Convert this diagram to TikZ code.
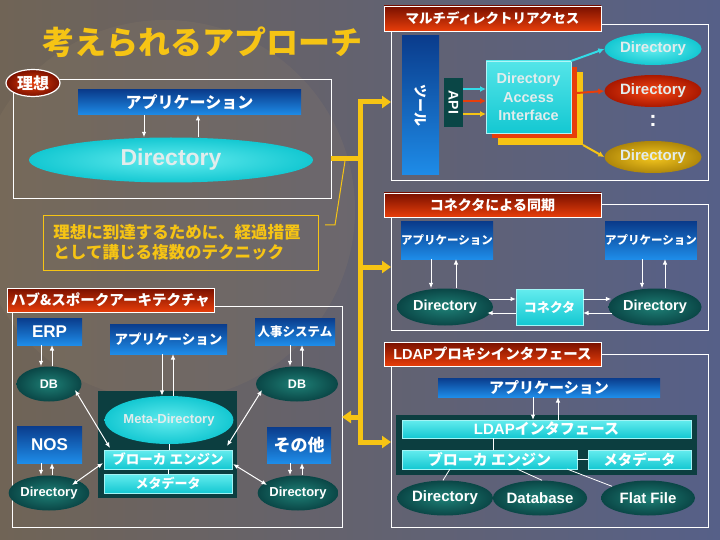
\documentclass[tikz,border=0pt]{standalone}
\usepackage{fontspec}
\setmainfont{Liberation Sans}
\newfontfamily\jp{Noto Sans CJK JP}
\usetikzlibrary{shapes.geometric,arrows.meta,calc}
\newcommand\myfs[1]{\fontsize{#1}{#1}\selectfont}
\definecolor{bgL}{RGB}{112,100,86}
\definecolor{bgR}{RGB}{86,96,136}
\definecolor{globe}{RGB}{150,132,108}
\definecolor{yel}{RGB}{246,196,20}
\definecolor{redD}{RGB}{120,16,0}
\definecolor{redL}{RGB}{232,62,10}
\definecolor{blueD}{RGB}{10,60,140}
\definecolor{blueL}{RGB}{30,140,232}
\definecolor{cyanT}{RGB}{100,236,238}
\definecolor{cyanB}{RGB}{20,200,210}
\definecolor{tealD}{RGB}{10,70,70}
\definecolor{tealL}{RGB}{30,128,118}
\definecolor{contC}{RGB}{12,62,64}
\definecolor{goldL}{RGB}{246,200,30}
\definecolor{goldD}{RGB}{175,135,10}
\definecolor{redE}{RGB}{245,70,20}
\definecolor{redED}{RGB}{170,24,0}
\definecolor{cyanA}{RGB}{50,220,232}
\definecolor{ltxt}{RGB}{226,236,236}
\begin{document}
\begin{tikzpicture}[x=1pt,y=-1pt,
  box/.style={rectangle,inner sep=0pt,outer sep=0pt},
  wframe/.style={box,draw=white,line width=0.8pt},
  redtitle/.style={box,draw=white,line width=0.8pt,top color=redD,bottom color=redL,text=white,font=\jp\bfseries\myfs{14}},
  bluebox/.style={box,top color=blueD,bottom color=blueL,text=white,font=\jp\bfseries},
  cyanbar/.style={box,draw=cyanT!60!white,line width=0.5pt,top color=cyanT,bottom color=cyanB,text=white,font=\jp\bfseries},
  tealell/.style={ellipse,inner sep=0pt,inner color=tealL,outer color=tealD,text=white,font=\bfseries},
  cyanell/.style={ellipse,inner sep=0pt,inner color=cyanT,outer color=cyanB,text=ltxt,font=\bfseries},
  arr/.style={draw=white,line width=1pt,-{Latex[length=5.5pt,width=4.5pt]}},
  darr/.style={draw=white,line width=1pt,{Latex[length=5.5pt,width=4.5pt]}-{Latex[length=5.5pt,width=4.5pt]}},
  carr/.style={draw=#1,line width=2pt,-{Latex[length=6pt,width=6pt]}},
  yline/.style={draw=yel,line width=5pt},
  ytip/.style={-{Triangle[length=9pt,width=12pt]}},
  thinline/.style={draw=white,line width=0.8pt}
]
\useasboundingbox (0,0) rectangle (720,540);
\clip (0,0) rectangle (720,540);
% background
\fill[left color=bgL,right color=bgR] (0,0) rectangle (720,540);
\fill[globe,opacity=0.16] (165,210) circle (190);

% title
\node[font=\jp\bfseries\myfs{32},text=yel] (title) at (202.5,42) {考えられるアプローチ};

% ===== ideal =====
\node[wframe,minimum width=318,minimum height=119] (ideal) at (172,138.5) {};
\node[bluebox,minimum width=223,minimum height=25,font=\jp\bfseries\myfs{16}] (app1) at (189.5,102.5) {アプリケーション};
\node[cyanell,minimum width=284,minimum height=45,font=\bfseries\myfs{23}] (dir1) at (171,160) {Directory};
\node[ellipse,inner sep=0pt,minimum width=54,minimum height=27,draw=white,line width=1.2pt,inner color=redL,outer color=redD,text=white,font=\jp\bfseries\myfs{16}] (badge) at (33,83) {理想};
\draw[arr] ([xshift=-45.5]app1.south) -- ([xshift=-27]dir1.north);
\draw[arr] ([xshift=27]dir1.north) -- ([xshift=8.5]app1.south);

% ===== multi directory =====
\node[wframe,minimum width=317,minimum height=156] (mframe) at (549.5,102) {};
\node[redtitle,minimum width=217,minimum height=25,font=\jp\bfseries\myfs{13.5}] (mtitle) at (492.5,18.5) {マルチディレクトリアクセス};
\node[box,minimum width=37,minimum height=139,top color=blueD,bottom color=blueL] (tool) at (420.5,105.5) {};
\node[rotate=-90,text=white,font=\jp\bfseries\myfs{14}] (tooltxt) at (tool.center) {ツール};
\node[box,minimum width=19,minimum height=49,fill=tealD] (api) at (453.5,102.5) {};
\node[rotate=-90,text=white,font=\bfseries\myfs{14}] (apitxt) at (api.center) {API};
\node[box,minimum width=85,minimum height=73,fill=yel] (daiY) at (540.5,108.5) {};
\node[box,minimum width=85,minimum height=71,fill=redL] (daiR) at (534.5,102.5) {};
\node[box,minimum width=85,minimum height=72,top color=cyanT!80!cyanB,bottom color=cyanB,draw=cyanT!50!white,line width=0.5pt,text=ltxt,align=center,font=\bfseries\fontsize{14.5}{18.5}\selectfont] (dai) at (528.5,97) {Directory\\Access\\Interface};
\node[cyanell,minimum width=97,minimum height=32,font=\bfseries\myfs{15}] (dirA) at (653,49) {Directory};
\node[ellipse,inner sep=0pt,minimum width=97,minimum height=32,inner color=redE,outer color=redED,text=ltxt,font=\bfseries\myfs{15}] (dirB) at (653,91) {Directory};
\node[ellipse,inner sep=0pt,minimum width=97,minimum height=32,inner color=goldL,outer color=goldD,text=ltxt,font=\bfseries\myfs{15}] (dirC) at (653,157) {Directory};
\node[text=white,font=\bfseries\myfs{22}] (dots) at (653,121) {:};
\draw[carr=cyanA] ([yshift=13.5]api.east) -- ([yshift=8]dai.west);
\draw[carr=redL] ([yshift=1.5]api.east) -- ([yshift=-4]dai.west);
\draw[carr=yel] ([yshift=-11.5]api.east) -- ([yshift=-17]dai.west);
\draw[carr=cyanA] (dai.north east) -- (dirA.west);
\draw[carr=redL] ([yshift=9.5]daiR.east) -- (dirB.west);
\draw[carr=yel] (daiY.south east) -- (dirC.west);

% ===== connector sync =====
\node[wframe,minimum width=317,minimum height=126] (cframe) at (549.5,267) {};
\node[redtitle,minimum width=217,minimum height=24] (ctitle) at (492.5,205) {コネクタによる同期};
\node[bluebox,minimum width=92,minimum height=37,font=\jp\bfseries\myfs{11.5}] (capp1) at (447,240.5) {アプリケーション};
\node[bluebox,minimum width=90,minimum height=37,font=\jp\bfseries\myfs{11.5}] (capp2) at (651,240.5) {アプリケーション};
\node[tealell,minimum width=96,minimum height=37,font=\bfseries\myfs{14.5}] (cdir1) at (445,307) {Directory};
\node[tealell,minimum width=93,minimum height=37,font=\bfseries\myfs{14.5}] (cdir2) at (655,307) {Directory};
\node[cyanbar,minimum width=67,minimum height=36,font=\jp\bfseries\myfs{13}] (conn) at (549.5,307) {コネクタ};
\draw[arr] ([xshift=-16]capp1.south) -- ([xshift=-14]cdir1.north);
\draw[arr] ([xshift=11]cdir1.north) -- ([xshift=9]capp1.south);
\draw[arr] ([xshift=-9]capp2.south) -- ([xshift=-13]cdir2.north);
\draw[arr] ([xshift=10]cdir2.north) -- ([xshift=14]capp2.south);
\draw[arr] ([xshift=-4,yshift=8]cdir1.east) -- ([yshift=8]conn.west);
\draw[arr] ([yshift=-6]conn.west) -- ([xshift=-6,yshift=-6]cdir1.east);
\draw[arr] ([yshift=8]conn.east) -- ([xshift=3,yshift=8]cdir2.west);
\draw[arr] ([xshift=4,yshift=-6]cdir2.west) -- ([yshift=-6]conn.east);

% ===== LDAP proxy =====
\node[wframe,minimum width=317,minimum height=173] (lframe) at (549.5,440.5) {};
\node[redtitle,minimum width=217,minimum height=24,font=\jp\bfseries\myfs{14.5}] (ltitle) at (492.5,354) {{\rmfamily\bfseries LDAP}プロキシインタフェース};
\node[bluebox,minimum width=222,minimum height=19,font=\jp\bfseries\myfs{15}] (lapp) at (549,387.5) {アプリケーション};
\node[box,minimum width=301,minimum height=60,fill=contC] (lcont) at (546.5,445) {};
\node[cyanbar,minimum width=289,minimum height=18,font=\jp\bfseries\myfs{15}] (lif) at (546.5,429) {{\rmfamily\bfseries LDAP}インタフェース};
\node[cyanbar,minimum width=175,minimum height=19,font=\jp\bfseries\myfs{15}] (lbro) at (489.5,459.5) {ブローカ エンジン};
\node[cyanbar,minimum width=103,minimum height=19,font=\jp\bfseries\myfs{14.5}] (lmeta) at (639.5,459.5) {メタデータ};
\node[tealell,minimum width=96,minimum height=35,font=\bfseries\myfs{15}] (ldir) at (445,498) {Directory};
\node[tealell,minimum width=90,minimum height=35,font=\bfseries\myfs{15}] (ldb) at (540,498) {Database};
\node[tealell,minimum width=94,minimum height=35,font=\bfseries\myfs{15}] (lff) at (648,498) {Flat File};
\draw[arr] ([xshift=-16]lapp.south) -- ([xshift=-13.5]lif.north);
\draw[arr] ([xshift=11.5]lif.north) -- ([xshift=9]lapp.south);
\draw[thinline] ([xshift=-53.5]lif.south) -- ([xshift=3.5]lbro.north);
\draw[thinline] (lbro.east) -- (lmeta.west);
\draw[thinline] ([xshift=-39.5]lbro.south) -- ([xshift=-2]ldir.north);
\draw[thinline] ([xshift=27.5]lbro.south) -- ([xshift=2]ldb.north);
\draw[thinline] ([xshift=77.5]lbro.south) -- ([xshift=-36,yshift=-6]lff.north);

% ===== hub & spoke =====
\node[wframe,minimum width=330,minimum height=221] (hframe) at (177,416.5) {};
\node[redtitle,minimum width=207,minimum height=24,font=\jp\bfseries\myfs{14.5}] (htitle) at (110.5,300) {ハブ\&スポークアーキテクチャ};
\node[bluebox,minimum width=65,minimum height=27,font=\bfseries\myfs{17}] (erp) at (49.5,331.5) {ERP};
\node[bluebox,minimum width=117,minimum height=30,font=\jp\bfseries\myfs{13.5}] (happ) at (168.5,339) {アプリケーション};
\node[bluebox,minimum width=80,minimum height=27,font=\jp\bfseries\myfs{12.5}] (jinji) at (295,331.5) {人事システム};
\node[tealell,minimum width=65,minimum height=35,font=\bfseries\myfs{12.5}] (db1) at (49,384) {DB};
\node[tealell,minimum width=82,minimum height=35,font=\bfseries\myfs{12.5}] (db2) at (297,384) {DB};
\node[box,minimum width=139,minimum height=107,fill=contC] (mcont) at (167.5,444.5) {};
\node[cyanell,minimum width=119,minimum height=48,font=\bfseries\myfs{13}] (metadir) at (169,420) {Meta-Directory};
\node[cyanbar,minimum width=128,minimum height=19,font=\jp\bfseries\myfs{13.5}] (hbro) at (168,459.5) {ブローカ エンジン};
\node[cyanbar,minimum width=128,minimum height=19,font=\jp\bfseries\myfs{13}] (hmeta) at (168,483.5) {メタデータ};
\node[bluebox,minimum width=65,minimum height=37,font=\bfseries\myfs{17}] (nos) at (49.5,444.5) {NOS};
\node[bluebox,minimum width=64,minimum height=36,font=\jp\bfseries\myfs{17}] (sonota) at (299,445) {その他};
\node[tealell,minimum width=63,minimum height=35,font=\bfseries\myfs{13}] (hdir1) at (49,493) {Directory};
\node[tealell,minimum width=63,minimum height=35,font=\bfseries\myfs{13}] (hdir2) at (298,493) {Directory};
\draw[arr] ([xshift=-8.5]erp.south) -- ([xshift=-8]db1.north);
\draw[arr] ([xshift=3]db1.north) -- ([xshift=2.5]erp.south);
\draw[arr] ([xshift=-5]jinji.south) -- ([xshift=-7]db2.north);
\draw[arr] ([xshift=5]db2.north) -- ([xshift=7]jinji.south);
\draw[arr] ([xshift=-6.5]happ.south) -- ([xshift=-7]metadir.north);
\draw[arr] ([xshift=4]metadir.north) -- ([xshift=4.5]happ.south);
\draw[arr] ([xshift=-8.5]nos.south) -- ([xshift=-8]hdir1.north);
\draw[arr] ([xshift=3]hdir1.north) -- ([xshift=2.5]nos.south);
\draw[arr] ([xshift=-9]sonota.south) -- ([xshift=-8]hdir2.north);
\draw[arr] ([xshift=4]hdir2.north) -- ([xshift=3]sonota.south);
\draw[thinline] (metadir.south) -- ([xshift=1]hbro.north);
\draw[thinline] (hbro.south) -- (hmeta.north);
\draw[darr] ([xshift=26,yshift=-6]db1.center) -- ([xshift=-58,yshift=11.5]hbro.center);
\draw[darr] ([xshift=-35,yshift=-6]db2.center) -- ([xshift=59,yshift=13.5]hbro.center);
\draw[darr] ([xshift=23,yshift=8]hdir1.center) -- ([xshift=-65,yshift=-3.5]hbro.center);
\draw[darr] ([xshift=-31,yshift=8]hdir2.center) -- ([xshift=65,yshift=-4.5]hbro.center);

% ===== callout =====
\node[box,draw=yel,line width=0.8pt,minimum width=275,minimum height=55] (callout) at (180.5,242.5) {};
\node[text=yel,align=left,font=\jp\bfseries\fontsize{16.5}{20}\selectfont] (calltxt) at (177,242) {理想に到達するために、経過措置\\として講じる複数のテクニック};

% ===== yellow connectors =====
\coordinate (yt) at (360,102);
\coordinate (yb) at (360,442);
\coordinate (yj) at (360,159);
\coordinate (ym) at (360,267);
\coordinate (yl) at (360,417);
\draw[yline,{Triangle[length=9pt,width=12pt]}-{Triangle[length=9pt,width=12pt]}] (yt -| mframe.west) -- (yt) -- (yb) -- (yb -| lframe.west);
\draw[yline] (yj -| ideal.east) -- (yj);
\draw[yline,ytip] (ym) -- (ym -| cframe.west);
\draw[yline,ytip] (yl) -- (yl -| hframe.east);
\coordinate (c1) at (345,161);
\coordinate (c2) at (335,225);
\coordinate (c3) at (325,225);
\draw[draw=yel,line width=1pt] (c1) -- (c2) -- (c3);
\end{tikzpicture}
\end{document}
